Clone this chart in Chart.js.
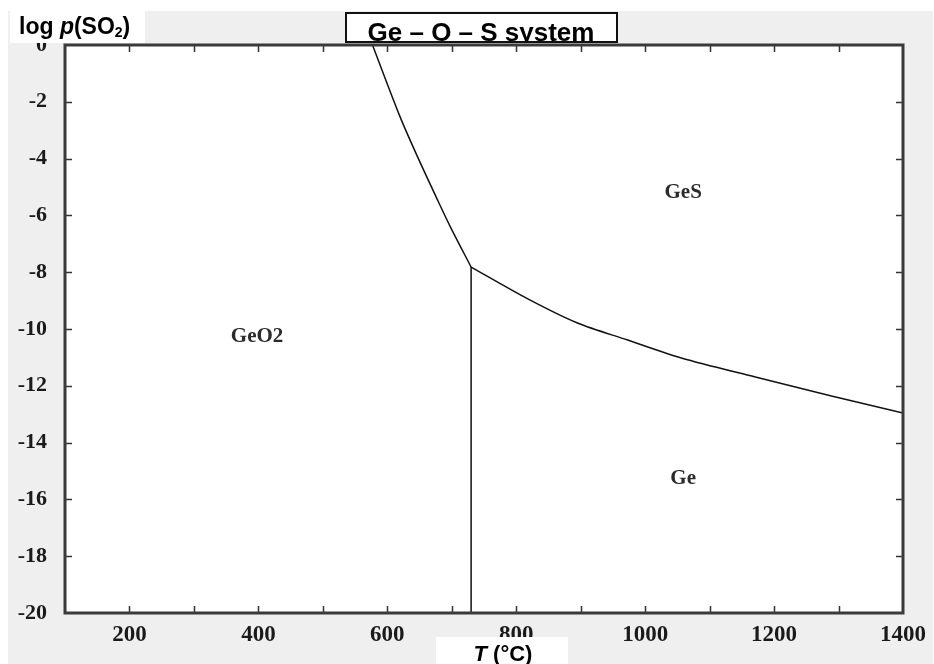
<!DOCTYPE html>
<html>
<head>
<meta charset="utf-8">
<script src="https://cdn.jsdelivr.net/npm/chart.js@4.4.0/dist/chart.umd.min.js"></script>
<style>
  body { margin: 0; background: #fff; }
  canvas { display: block; }
</style>
</head>
<body>
<canvas id="diagram" width="934" height="664"></canvas>
<script>
// phase boundaries (T in °C, log p(SO2))
const geo2GesT = [577, 620, 647, 678, 698, 730];
const geo2GesLogP = [0, -2.54, -3.94, -5.46, -6.41, -7.82];

const gesGeT = [730, 818, 895, 973, 1056, 1171, 1289, 1400];
const gesGeLogP = [-7.82, -8.94, -9.79, -10.39, -11.02, -11.69, -12.36, -12.96];

const geo2GeT = [730, 730];
const geo2GeLogP = [-7.82, -20];

// field labels
const regionNames = ['GeO2', 'GeS', 'Ge'];
const regionT = [398, 1059, 1059];
const regionLogP = [-10.28, -5.18, -15.25];

const xTicks = [200, 300, 400, 500, 600, 700, 800, 900, 1000, 1100, 1200, 1300];
const yTicks = [-2, -4, -6, -8, -10, -12, -14, -16, -18];

function toPoints(xs, ys) {
    return xs.map((x, i) => ({ x: x, y: ys[i] }));
}

const lineStyle = {
    borderColor: '#111',
    borderWidth: 1.5,
    pointRadius: 0,
    fill: false,
};

const framePlugin = {
    id: 'frame',
    beforeDraw(chart) {
        const ctx = chart.ctx;
        const a = chart.chartArea;
        ctx.save();
        ctx.fillStyle = '#fff';
        ctx.fillRect(0, 0, chart.width, chart.height);
        ctx.fillStyle = '#efefef';
        ctx.fillRect(8, 11, chart.width - 9, chart.height - 11);
        ctx.fillStyle = '#fff';
        ctx.fillRect(a.left, a.top, a.right - a.left, a.bottom - a.top);
        ctx.restore();
    },
    afterDraw(chart) {
        const ctx = chart.ctx;
        const a = chart.chartArea;
        const xs = chart.scales.x;
        const ys = chart.scales.y;
        ctx.save();

        // inward tick marks on all four sides
        ctx.strokeStyle = '#333';
        ctx.lineWidth = 1.5;
        ctx.beginPath();
        xTicks.forEach(v => {
            const px = Math.round(xs.getPixelForValue(v)) + 0.5;
            ctx.moveTo(px, a.bottom); ctx.lineTo(px, a.bottom - 7);
            ctx.moveTo(px, a.top); ctx.lineTo(px, a.top + 7);
        });
        yTicks.forEach(v => {
            const py = Math.round(ys.getPixelForValue(v)) + 0.5;
            ctx.moveTo(a.left, py); ctx.lineTo(a.left + 7, py);
            ctx.moveTo(a.right, py); ctx.lineTo(a.right - 7, py);
        });
        ctx.stroke();

        // frame
        ctx.strokeStyle = '#3a3a3a';
        ctx.lineWidth = 3;
        ctx.strokeRect(a.left, a.top, a.right - a.left, a.bottom - a.top);

        // field names
        ctx.fillStyle = '#2b2b2b';
        ctx.font = 'bold 21px "Liberation Serif", "Times New Roman", serif';
        ctx.textAlign = 'center';
        ctx.textBaseline = 'middle';
        regionNames.forEach((name, i) => {
            ctx.fillText(name, xs.getPixelForValue(regionT[i]), ys.getPixelForValue(regionLogP[i]));
        });

        // y axis name box
        ctx.textAlign = 'left';
        ctx.textBaseline = 'alphabetic';
        ctx.fillStyle = '#fff';
        ctx.fillRect(10, 11, 135, 32);
        ctx.fillStyle = '#000';
        let x = 19;
        const base = 34;
        ctx.font = 'bold 23px "Liberation Sans", Arial, sans-serif';
        ctx.fillText('log ', x, base); x += ctx.measureText('log ').width;
        ctx.font = 'italic bold 23px "Liberation Sans", Arial, sans-serif';
        ctx.fillText('p', x, base); x += ctx.measureText('p').width;
        ctx.font = 'bold 23px "Liberation Sans", Arial, sans-serif';
        ctx.fillText('(SO', x, base); x += ctx.measureText('(SO').width;
        ctx.font = 'bold 14px "Liberation Sans", Arial, sans-serif';
        ctx.fillText('2', x, base + 3); x += ctx.measureText('2').width;
        ctx.font = 'bold 23px "Liberation Sans", Arial, sans-serif';
        ctx.fillText(')', x, base);

        // title box
        ctx.fillStyle = '#fff';
        ctx.fillRect(346, 13, 271, 29);
        ctx.save();
        ctx.beginPath();
        ctx.rect(346, 13, 271, 29);
        ctx.clip();
        ctx.fillStyle = '#000';
        ctx.font = 'bold 26px "Liberation Sans", Arial, sans-serif';
        ctx.textAlign = 'center';
        ctx.fillText('Ge – O – S system', 481, 41);
        ctx.restore();
        ctx.strokeStyle = '#111';
        ctx.lineWidth = 2;
        ctx.strokeRect(346, 13, 271, 29);

        // x axis name box
        ctx.fillStyle = '#fff';
        ctx.fillRect(436, 637, 132, 27);
        ctx.fillStyle = '#000';
        ctx.textAlign = 'left';
        ctx.font = 'italic bold 22px "Liberation Sans", Arial, sans-serif';
        const tW = ctx.measureText('T').width;
        ctx.font = 'bold 22px "Liberation Sans", Arial, sans-serif';
        const restW = ctx.measureText(' (°C)').width;
        let sx = 503 - (tW + restW) / 2;
        ctx.font = 'italic bold 22px "Liberation Sans", Arial, sans-serif';
        ctx.fillText('T', sx, 661);
        ctx.font = 'bold 22px "Liberation Sans", Arial, sans-serif';
        ctx.fillText(' (°C)', sx + tW, 661);

        ctx.restore();
    }
};

new Chart(document.getElementById('diagram'), {
    type: 'scatter',
    data: {
        datasets: [
            Object.assign({ label: 'GeO2/GeS', data: toPoints(geo2GesT, geo2GesLogP), showLine: true, tension: 0.3 }, lineStyle),
            Object.assign({ label: 'GeS/Ge', data: toPoints(gesGeT, gesGeLogP), showLine: true, tension: 0.3 }, lineStyle),
            Object.assign({ label: 'GeO2/Ge', data: toPoints(geo2GeT, geo2GeLogP), showLine: true }, lineStyle),
        ],
    },
    options: {
        responsive: false,
        animation: false,
        devicePixelRatio: 1,
        layout: { padding: { left: 0, top: 45, right: 25, bottom: 0 } },
        plugins: { legend: { display: false }, tooltip: { enabled: false } },
        scales: {
            x: {
                type: 'linear',
                min: 100,
                max: 1400,
                grid: { display: false, drawTicks: false },
                border: { display: false },
                afterFit: s => { s.height = 51; },
                ticks: {
                    stepSize: 100,
                    autoSkip: false,
                    maxRotation: 0,
                    padding: 8,
                    color: '#1a1a1a',
                    font: { family: '"Liberation Serif", "Times New Roman", serif', size: 23, weight: 'bold' },
                    callback: v => (v % 200 === 0 ? String(v) : ''),
                },
            },
            y: {
                type: 'linear',
                min: -20,
                max: 0,
                grid: { display: false, drawTicks: false },
                border: { display: false },
                afterFit: s => { s.width = 65; },
                ticks: {
                    stepSize: 2,
                    autoSkip: false,
                    padding: 18,
                    color: '#1a1a1a',
                    font: { family: '"Liberation Serif", "Times New Roman", serif', size: 22, weight: 'bold' },
                },
            },
        },
    },
    plugins: [framePlugin],
});
</script>
</body>
</html>
